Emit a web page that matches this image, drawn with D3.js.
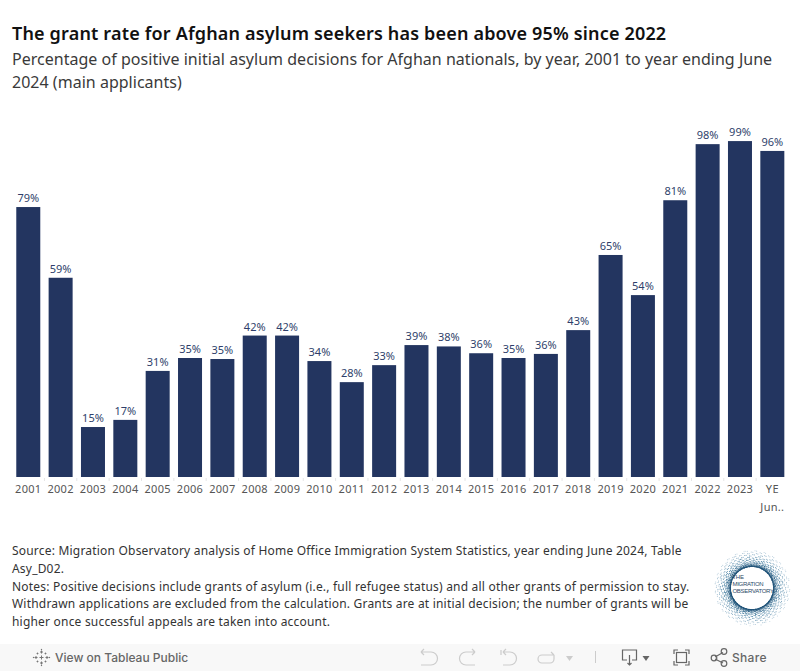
<!DOCTYPE html>
<html>
<head>
<meta charset="utf-8">
<script src="https://cdn.jsdelivr.net/npm/d3@7"></script>
<style>
  html, body { margin: 0; padding: 0; background: #fff; overflow: hidden; }
  svg { display: block; }
  text { font-family: "Noto Sans", sans-serif; }
  .title { font-size: 18px; font-weight: 600; fill: #111; letter-spacing: 0.17px; }
  .subtitle { font-size: 16px; fill: #3a3a3a; letter-spacing: 0.02px; }
  .bar-label { font-size: 11px; fill: #2f3f6b; text-anchor: middle; }
  .x-axis text { font-size: 11px; fill: #555; letter-spacing: 0.3px; }
  .x-axis path { display: none; }
  .note { font-size: 12px; fill: #333; letter-spacing: 0.2px; }
  .toolbar-text { font-size: 12px; font-weight: 500; fill: #666; font-family: Inter, sans-serif; }
  .icon { fill: none; stroke: #666; stroke-width: 1.2; }
  .icon-off { fill: none; stroke: #ccc; stroke-width: 1.2; }
</style>
</head>
<body>
<svg width="800" height="671"></svg>
<script>
// DATA
const years = ["2001","2002","2003","2004","2005","2006","2007","2008","2009","2010","2011","2012",
               "2013","2014","2015","2016","2017","2018","2019","2020","2021","2022","2023","YE Jun"];
const grantRate = [79.4,58.6,14.7,16.8,31.2,35.0,34.7,41.6,41.6,34.1,27.9,32.9,
                   38.8,38.4,36.4,35.0,36.2,43.2,65.3,53.5,81.4,97.9,98.8,95.9];

const titleText = "The grant rate for Afghan asylum seekers has been above 95% since 2022";
const subtitleLines = ["Percentage of positive initial asylum decisions for Afghan nationals, by year, 2001 to year ending June",
                       "2024 (main applicants)"];
const noteLines = ["Source: Migration Observatory analysis of Home Office Immigration System Statistics, year ending June 2024, Table",
                   "Asy_D02.",
                   "Notes: Positive decisions include grants of asylum (i.e., full refugee status) and all other grants of permission to stay.",
                   "Withdrawn applications are excluded from the calculation. Grants are at initial decision; the number of grants will be",
                   "higher once successful appeals are taken into account."];
const logoLines = ["THE", "MIGRATION", "OBSERVATORY"];

// LAYOUT PARAMETERS
const WIDTH = 800;
const HEIGHT = 671;
const BASELINE = 477;
const BAR_COLOR = "#233560";

const svg = d3.select("svg");

const x = d3.scaleBand().domain(years).range([12.1, 788.5]).paddingInner(0.258).paddingOuter(0.129);
const y = d3.scaleLinear().domain([0, 100]).range([BASELINE, BASELINE - 340]);

svg.append("text").attr("class", "title").attr("x", 12).attr("y", 40).text(titleText);

svg.selectAll(".subtitle")
    .data(subtitleLines)
    .enter()
    .append("text")
    .attr("class", "subtitle")
    .attr("x", 12)
    .attr("y", (d, i) => 65 + i * 23)
    .text(d => d);

// bars
const bars = d3.zip(years, grantRate);

svg.selectAll(".bar")
    .data(bars)
    .enter()
    .append("rect")
    .attr("class", "bar")
    .attr("x", d => x(d[0]))
    .attr("y", d => y(d[1]))
    .attr("width", x.bandwidth())
    .attr("height", d => y(0) - y(d[1]))
    .attr("fill", BAR_COLOR);

svg.selectAll(".bar-label")
    .data(bars)
    .enter()
    .append("text")
    .attr("class", "bar-label")
    .attr("x", d => x(d[0]) + x.bandwidth() / 2)
    .attr("y", d => y(d[1]) - 5)
    .text(d => Math.round(d[1]) + "%");

// x axis, last label wraps on two lines like tableau does it
const axis = svg.append("g")
    .attr("class", "x-axis")
    .attr("transform", `translate(0,${BASELINE})`)
    .call(d3.axisBottom(x).tickSize(0).tickPadding(8));

axis.selectAll(".tick text").each(function(d) {
    if (d === "YE Jun") {
        const t = d3.select(this).text(null);
        t.append("tspan").attr("x", 0).text("YE");
        t.append("tspan").attr("x", 0).attr("dy", 18).text("Jun..");
    }
});

// little separators between the categories
svg.selectAll(".sep")
    .data(years.slice(1))
    .enter()
    .append("line")
    .attr("class", "sep")
    .attr("x1", d => x(d) - x.step() * x.paddingInner() / 2)
    .attr("x2", d => x(d) - x.step() * x.paddingInner() / 2)
    .attr("y1", BASELINE + 1)
    .attr("y2", BASELINE + 4)
    .attr("stroke", "#e6e6e6");

svg.selectAll(".note")
    .data(noteLines)
    .enter()
    .append("text")
    .attr("class", "note")
    .attr("x", 12)
    .attr("y", (d, i) => 555 + i * 17.75)
    .text(d => d);

// logo, speckled ring
const logo = svg.append("g").attr("transform", "translate(752,588)");
const ringColor = d3.scaleLinear().domain([21, 27, 38]).range(["#174a70", "#3f7a9e", "#c4d6e2"]);
d3.range(1400).forEach(i => {
    const a = i * 2.39996;
    const f = (i * 0.7548776) % 1;
    const r = 21.5 + 16.5 * Math.pow(f, 2.5);
    logo.append("circle")
        .attr("cx", r * Math.cos(a))
        .attr("cy", r * Math.sin(a))
        .attr("r", 0.55)
        .attr("fill", ringColor(r));
});
logoLines.forEach((s, i) => {
    logo.append("text")
        .attr("x", -19.5)
        .attr("y", -9.5 + i * 7)
        .attr("font-size", 6)
        .attr("letter-spacing", -0.3)
        .attr("fill", "#2b4a68")
        .style("font-family", "'Liberation Sans', sans-serif")
        .text(s);
});

// tableau toolbar
const bar = svg.append("g");
bar.append("rect").attr("x", 0).attr("y", 644).attr("width", WIDTH).attr("height", 27).attr("fill", "#f8f8f8");
bar.append("text").attr("class", "toolbar-text").attr("x", 55).attr("y", 662).text("View on Tableau Public");
bar.append("text").attr("class", "toolbar-text").attr("x", 732).attr("y", 662).attr("letter-spacing", 0.3).text("Share");

// tableau logo
const tab = bar.append("g").attr("transform", "translate(41.5,657.5)").attr("stroke", "#777").attr("stroke-width", 1);
[[0,0,4],[-5.5,0,3],[5.5,0,3],[0,-5.5,3],[0,5.5,3],[-4,-4,1.8],[4,-4,1.8],[-4,4,1.8],[4,4,1.8],[-8,0,1.2],[8,0,1.2],[0,-8,1.2],[0,8,1.2]]
    .forEach(p => {
        tab.append("line").attr("x1", p[0] - p[2] / 2).attr("x2", p[0] + p[2] / 2).attr("y1", p[1]).attr("y2", p[1]);
        tab.append("line").attr("x1", p[0]).attr("x2", p[0]).attr("y1", p[1] - p[2] / 2).attr("y2", p[1] + p[2] / 2);
    });

// undo, redo, revert, refresh
bar.append("path").attr("class", "icon-off").attr("d", "M421 652 h10 a6 6 0 0 1 0 13 h-10 M421 652 l3 -3 M421 652 l3 3");
bar.append("path").attr("class", "icon-off").attr("d", "M475 652 h-9 a6 6 0 0 0 0 13 h9 M475 652 l-3 -3 M475 652 l-3 3");
bar.append("path").attr("class", "icon-off").attr("d", "M501 650 v5 M503 652 h7 a6 6 0 0 1 0 13 h-7 M503 652 l3 -3 M503 652 l3 3");
bar.append("path").attr("class", "icon-off").attr("d", "M554 655 h-12 a4 4 0 0 0 0 8 h8 a4 4 0 0 0 4 -4 v-4 M554 655 l-3 -3");
bar.append("path").attr("d", "M566 656 h7 l-3.5 5 z").attr("fill", "#ccc");
bar.append("line").attr("x1", 595.5).attr("x2", 595.5).attr("y1", 651).attr("y2", 663).attr("stroke", "#ccc");

// download
bar.append("path").attr("class", "icon").attr("d", "M627 660 h-4.5 v-10 h14 v10 h-4.5 M629.5 655 v10 M627.5 663 l2 2 l2 -2");
bar.append("path").attr("d", "M642.5 656 h7 l-3.5 5 z").attr("fill", "#666");

// fullscreen
bar.append("path").attr("class", "icon").attr("d", "M674 654 v-4 h4 M685 650 h4 v4 M689 661 v4 h-4 M678 665 h-4 v-4");
bar.append("rect").attr("class", "icon").attr("x", 676.5).attr("y", 652.5).attr("width", 10).attr("height", 10);

// share
bar.append("path").attr("class", "icon").attr("d", "M715 657 L723 652.5 M715 659 L723 663");
[[714, 658, 2.8], [724, 651.5, 2.8], [724, 663.5, 2.8]].forEach(c => {
    bar.append("circle").attr("class", "icon").attr("cx", c[0]).attr("cy", c[1]).attr("r", c[2]);
});
</script>
</body>
</html>
